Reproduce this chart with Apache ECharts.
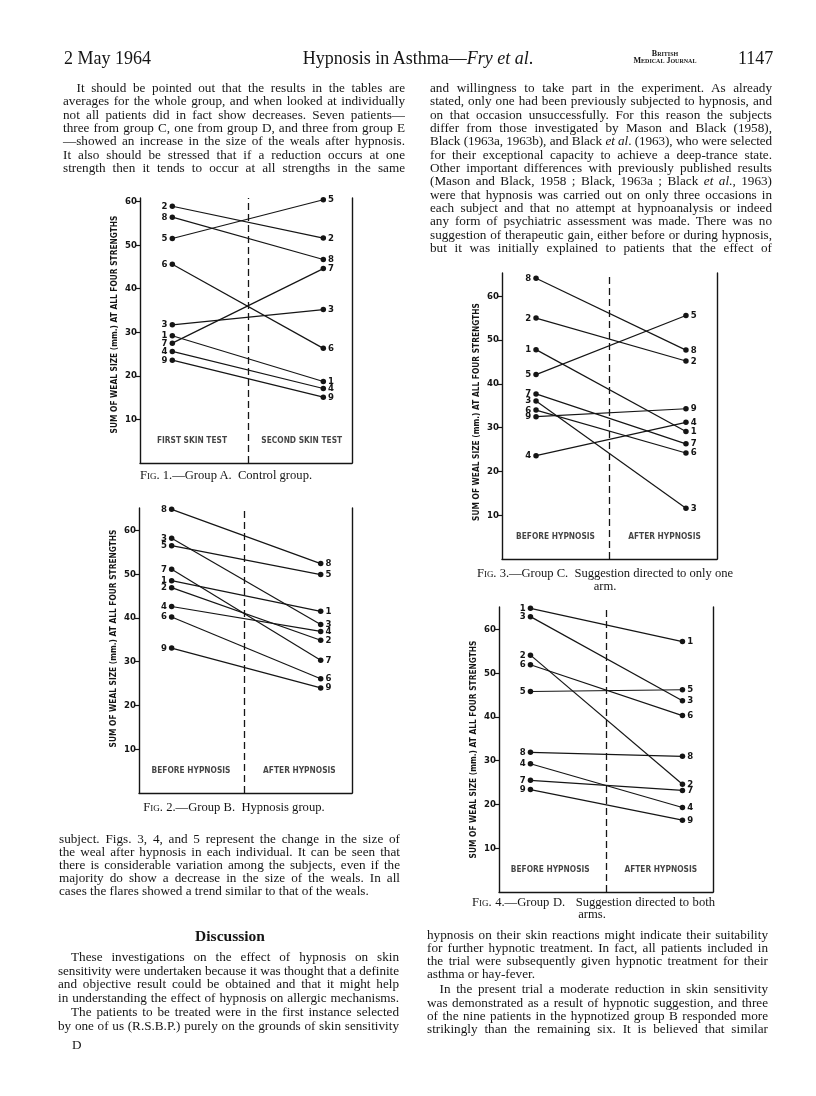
<!DOCTYPE html>
<html>
<head>
<meta charset="utf-8">
<script src="https://cdn.jsdelivr.net/npm/echarts@6/dist/echarts.min.js"></script>
<style>
html,body{margin:0;padding:0;background:#fff;}
#page{position:relative;width:816px;height:1096px;overflow:hidden;background:#fff;}
#chart{position:absolute;left:0;top:0;width:816px;height:1096px;}
.ln{position:absolute;white-space:nowrap;font-family:'Liberation Serif','DejaVu Serif',serif;font-size:13.2px;line-height:14px;height:14px;color:#151515;text-align:justify;text-align-last:justify;}
.ln.left{text-align:left;text-align-last:left;}
.ln.center{text-align:center;text-align-last:center;}
.ln.cap{font-size:12.6px;}
.sc{font-variant:small-caps;}
</style>
</head>
<body>
<div id="page">
  <div id="chart"></div>
  <div id="text"></div>
</div>
<script>
// ---------------- DATA ----------------
const patients = ['1','2','3','4','5','6','7','8','9'];
const yTicks = [10, 20, 30, 40, 50, 60];
const yAxisTitle = 'SUM OF WEAL SIZE (mm.) AT ALL FOUR STRENGTHS';

// Fig. 1 — Group A (control)
const fig1Before = [29.2, 58.9, 31.7, 25.6, 51.5, 45.6, 27.5, 56.4, 23.6];
const fig1After  = [18.7, 51.6, 35.2, 17.1, 60.4, 26.3, 44.6, 46.7, 15.1];
// Fig. 2 — Group B (hypnosis)
const fig2Before = [48.5, 46.9, 58.2, 42.6, 56.5, 40.2, 51.1, 64.8, 33.1];
const fig2After  = [41.5, 34.9, 38.5, 36.9, 49.9, 26.1, 30.3, 52.4, 24.0];
// Fig. 3 — Group C
const fig3Before = [47.8, 55.0, 36.1, 23.6, 42.1, 34.0, 37.7, 64.1, 32.5];
const fig3After  = [29.1, 45.2, 11.6, 31.2, 55.6, 24.2, 26.3, 47.7, 34.3];
// Fig. 4 — Group D
const fig4Before = [64.8, 54.1, 62.9, 29.3, 45.8, 51.9, 25.5, 31.9, 23.4];
const fig4After  = [57.2, 24.6, 43.7, 19.3, 46.2, 40.3, 23.2, 31.0, 16.4];

const fig1Phases = ['FIRST SKIN TEST', 'SECOND SKIN TEST'];
const hypPhases  = ['BEFORE HYPNOSIS', 'AFTER HYPNOSIS'];

// Page text
const headerLeft = '2 May 1964';
const headerRight = '1147';
const leftTopLines = [
  'It should be pointed out that the results in the tables are',
  'averages for the whole group, and when looked at individually',
  'not all patients did in fact show decreases.  Seven patients\u2014',
  'three from group C, one from group D, and three from group E',
  '\u2014showed an increase in the size of the weals after hypnosis.',
  'It also should be stressed that if a reduction occurs at one',
  'strength then it tends to occur at all strengths in the same'
];
const rightTopLines = [
  'and willingness to take part in the experiment.  As already',
  'stated, only one had been previously subjected to hypnosis, and',
  'on that occasion unsuccessfully.  For this reason the subjects',
  'differ from those investigated by Mason and Black (1958),',
  'Black (1963a, 1963b), and Black <i>et al</i>. (1963), who were selected',
  'for their exceptional capacity to achieve a deep-trance state.',
  'Other important differences with previously published results',
  '(Mason and Black, 1958 ; Black, 1963a ; Black <i>et al</i>., 1963)',
  'were that hypnosis was carried out on only three occasions in',
  'each subject and that no attempt at hypnoanalysis or indeed',
  'any form of psychiatric assessment was made.  There was no',
  'suggestion of therapeutic gain, either before or during hypnosis,',
  'but it was initially explained to patients that the effect of'
];
const leftBottomLines = [
  'subject.  Figs. 3, 4, and 5 represent the change in the size of',
  'the weal after hypnosis in each individual.  It can be seen that',
  'there is considerable variation among the subjects, even if the',
  'majority do show a decrease in the size of the weals.  In all',
  'cases the flares showed a trend similar to that of the weals.'
];
const discussionLines = [
  'These investigations on the effect of hypnosis on skin',
  'sensitivity were undertaken because it was thought that a definite',
  'and objective result could be obtained and that it might help',
  'in understanding the effect of hypnosis on allergic mechanisms.',
  'The patients to be treated were in the first instance selected',
  'by one of us (R.S.B.P.) purely on the grounds of skin sensitivity'
];
const rightBottomLines = [
  'hypnosis on their skin reactions might indicate their suitability',
  'for further hypnotic treatment.  In fact, all patients included in',
  'the trial were subsequently given hypnotic treatment for their',
  'asthma or hay-fever.',
  'In the present trial a moderate reduction in skin sensitivity',
  'was demonstrated as a result of hypnotic suggestion, and three',
  'of the nine patients in the hypnotized group B responded more',
  'strikingly than the remaining six.  It is believed that similar'
];
const captions = [
  ['<span class="sc">Fig.</span> 1.\u2014Group A.&nbsp; Control group.'],
  ['<span class="sc">Fig.</span> 2.\u2014Group B.&nbsp; Hypnosis group.'],
  ['<span class="sc">Fig.</span> 3.\u2014Group C.&nbsp; Suggestion directed to only one', 'arm.'],
  ['<span class="sc">Fig.</span> 4.\u2014Group D.&nbsp;&nbsp; Suggestion directed to both', 'arms.']
];

// ---------------- TEXT LAYOUT ----------------
const textBox = document.getElementById('text');
function addLine(html, left, width, yc, cls, extra) {
  const d = document.createElement('div');
  d.className = 'ln' + (cls ? ' ' + cls : '');
  d.style.left = left + 'px';
  d.style.top = (yc - 7.5) + 'px';
  if (width != null) d.style.width = width + 'px';
  if (extra) Object.assign(d.style, extra);
  d.innerHTML = '<span>' + html + '</span>';
  textBox.appendChild(d);
  // shrink letter spacing slightly if the natural line is wider than its measure
  if (width != null) {
    const w = d.firstChild.getBoundingClientRect().width;
    if (w > width) {
      const n = d.textContent.length;
      d.style.letterSpacing = ((width - w) / n - 0.02) + 'px';
    }
  }
  return d;
}
function addBlock(lines, left, right, y0, step, opts) {
  opts = opts || {};
  let y = y0;
  lines.forEach((t, i) => {
    if (opts.paraStarts && opts.paraStarts.includes(i) && i > 0) y += opts.paraGap || 0;
    const ind = (opts.paraStarts && opts.paraStarts.includes(i)) ? (opts.indent || 13) : 0;
    const isLast = opts.lastLines && opts.lastLines.includes(i);
    addLine(t, left + ind, right - left - ind, y, isLast ? 'left' : '');
    y += step;
  });
}

// header
const H = {fontSize:'18px', height:'20px', lineHeight:'20px', top:'48px'};
addLine(headerLeft, 64, null, 58, 'left', H);
addLine('Hypnosis in Asthma\u2014<i>Fry et al</i>.', 258, 320, 58, 'center', H);
addLine('<span class="sc">British</span>', 625, 80, 54, 'center', {fontSize:'8px', fontWeight:'bold', height:'8px', lineHeight:'8px', top:'50px'});
addLine('<span class="sc">Medical Journal</span>', 625, 80, 61, 'center', {fontSize:'8px', fontWeight:'bold', height:'8px', lineHeight:'8px', top:'57px'});
addLine(headerRight, 738, null, 58, 'left', H);

addBlock(leftTopLines, 63, 405, 88.3, 13.35, {paraStarts:[0], indent:13.5});
addBlock(rightTopLines, 430, 772, 88.3, 13.35, {});
addBlock(leftBottomLines, 59, 400, 839, 13.0, {lastLines:[4]});
addLine('<b>Discussion</b>', 150, 160, 936, 'center', {fontSize:'15.5px', height:'18px', lineHeight:'18px', top:'927px'});
addBlock(discussionLines, 58, 399, 957.7, 13.6, {paraStarts:[0,4], indent:13, paraGap:0.8});
addBlock(rightBottomLines, 427, 768, 935, 13.3, {paraStarts:[4], indent:12.5, paraGap:1.6, lastLines:[3]});
addLine('D', 72, null, 1045, 'left');

// captions
addLine(captions[0][0], 126, 200, 475, 'center cap');
addLine(captions[1][0], 134, 200, 807, 'center cap');
addLine(captions[2][0], 477, 256, 573, 'cap');
addLine(captions[2][1], 580, 50, 586, 'center cap');
addLine(captions[3][0], 472, 243, 902, 'cap');
addLine(captions[3][1], 567, 50, 914, 'center cap');

// ---------------- CHART ----------------
const FONT = "'DejaVu Sans Condensed','DejaVu Sans',sans-serif";
const INK = '#151515';

const figs = [
  {before: fig1Before, after: fig1After, phases: fig1Phases,
   grid: {left: 140, top: 198, width: 212, height: 265}, xMin: -0.214, xMax: 1.19, yMax: 60.8, divider: 0.497, titleShift: 6},
  {before: fig2Before, after: fig2After, phases: hypPhases,
   grid: {left: 139, top: 508, width: 213, height: 285}, xMin: -0.219, xMax: 1.21, yMax: 65.1, divider: 0.494, titleShift: 12},
  {before: fig3Before, after: fig3After, phases: hypPhases,
   grid: {left: 502, top: 273, width: 215, height: 286}, xMin: -0.227, xMax: 1.207, yMax: 65.3, divider: 0.494, titleShift: 4},
  {before: fig4Before, after: fig4After, phases: hypPhases,
   grid: {left: 499, top: 607, width: 214, height: 285}, xMin: -0.207, xMax: 1.201, yMax: 65.1, divider: 0.5, titleShift: 0}
];

const grids = [], xAxes = [], yAxes = [], series = [];
figs.forEach((f, i) => {
  grids.push(Object.assign({containLabel: false}, f.grid));
  xAxes.push({
    gridIndex: i, type: 'value', min: f.xMin, max: f.xMax, position: 'bottom',
    axisLine: {show: true, onZero: false, lineStyle: {color: INK, width: 1.4}},
    axisTick: {show: false}, axisLabel: {show: false}, splitLine: {show: false}
  });
  yAxes.push({
    gridIndex: i, type: 'value', min: 0, max: f.yMax, interval: 10, position: 'left',
    axisLine: {show: true, onZero: false, lineStyle: {color: INK, width: 1.4}},
    axisTick: {show: true, length: 4, lineStyle: {color: INK, width: 1.2}, customValues: yTicks},
    axisLabel: {show: true, customValues: yTicks, margin: 3, fontFamily: FONT, fontWeight: 'bold', fontSize: 9.5, color: INK,
      formatter: v => (v > 0 && v % 10 === 0 && v <= 60) ? String(v) : ''},
    splitLine: {show: false},
    name: yAxisTitle, nameLocation: 'middle', nameRotate: 90, nameGap: 21,
    nameTextStyle: {fontFamily: FONT, fontWeight: 'bold', fontSize: 8.3, color: INK,
      padding: [0, 0, 0, f.titleShift * 2]}
  });
  yAxes.push({
    gridIndex: i, type: 'value', min: 0, max: f.yMax, position: 'right',
    axisLine: {show: true, onZero: false, lineStyle: {color: INK, width: 1.4}},
    axisTick: {show: false}, axisLabel: {show: false}, splitLine: {show: false}
  });
  patients.forEach((p, k) => {
    const s = {
      type: 'line', name: 'fig' + (i + 1) + '-' + p, xAxisIndex: i, yAxisIndex: i * 2,
      data: [
        {value: [0, f.before[k]], label: {position: 'left'}},
        {value: [1, f.after[k]], label: {position: 'right'}}
      ],
      symbol: 'circle', symbolSize: 5.5, showSymbol: true,
      lineStyle: {color: INK, width: 1.2}, itemStyle: {color: INK},
      label: {show: true, formatter: p, fontFamily: FONT, fontWeight: 'bold', fontSize: 9.5, color: INK, distance: 2},
      silent: true, animation: false, z: 3
    };
    if (k === 0) {
      s.markLine = {
        symbol: 'none', silent: true, animation: false,
        lineStyle: {type: [7, 4], color: INK, width: 1.3},
        label: {show: false},
        data: [{xAxis: f.divider}]
      };
    }
    series.push(s);
  });
  series.push({
    type: 'scatter', name: 'phases' + (i + 1), xAxisIndex: i, yAxisIndex: i * 2,
    symbolSize: 0, silent: true, animation: false,
    data: [{value: [0.13, 5], name: f.phases[0]}, {value: [0.857, 5], name: f.phases[1]}],
    label: {show: true, position: 'inside', formatter: '{b}', fontFamily: FONT, fontWeight: 'bold', fontSize: 8.3, color: INK}
  });
});

const chart = echarts.init(document.getElementById('chart'), null, {renderer: 'canvas', width: 816, height: 1096});
chart.setOption({
  backgroundColor: '#fff',
  animation: false,
  grid: grids, xAxis: xAxes, yAxis: yAxes, series: series
});
</script>
</body>
</html>
